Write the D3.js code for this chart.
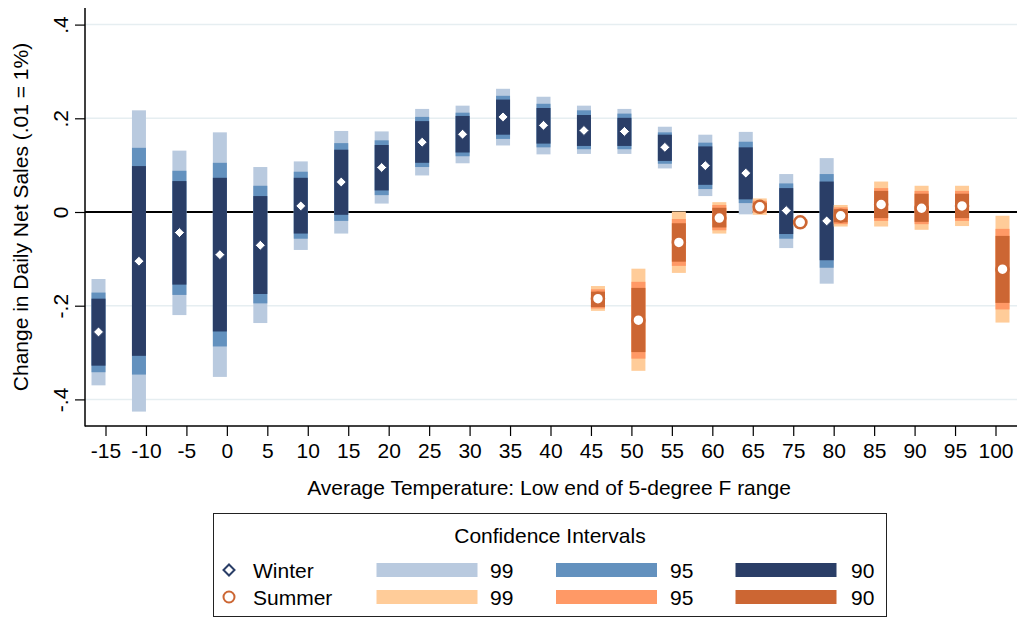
<!DOCTYPE html>
<html>
<head>
<meta charset="utf-8">
<script src="https://cdn.jsdelivr.net/npm/d3@7"></script>
<style>
  html, body { margin: 0; padding: 0; background: #fff; }
  svg { display: block; font-family: "Liberation Sans", Arial, sans-serif; }
</style>
</head>
<body>
<svg id="chart" width="1020" height="622"></svg>
<script>
// ---- Data ----
const categories = ["-15","-10","-5","0","5","10","15","20","25","30","35","40","45","50","55","60","65","75","80","85","90","95","100"];

const winterEst  = [-0.256,-0.105,-0.044,-0.091,-0.071,0.013,0.064,0.095,0.149,0.166,0.203,0.185,0.174,0.172,0.138,0.099,0.083,0.003,-0.019,null,null,null,null];
const winter99Lo = [-0.370,-0.426,-0.220,-0.352,-0.237,-0.081,-0.046,0.018,0.078,0.104,0.142,0.123,0.124,0.124,0.093,0.034,-0.005,-0.077,-0.153,null,null,null,null];
const winter99Hi = [-0.143,0.217,0.131,0.170,0.096,0.108,0.173,0.172,0.220,0.227,0.263,0.246,0.227,0.220,0.182,0.165,0.171,0.081,0.115,null,null,null,null];
const winter95Lo = [-0.342,-0.347,-0.177,-0.287,-0.195,-0.057,-0.019,0.036,0.096,0.119,0.156,0.138,0.134,0.134,0.103,0.049,0.019,-0.057,-0.119,null,null,null,null];
const winter95Hi = [-0.172,0.137,0.088,0.105,0.056,0.086,0.147,0.153,0.203,0.212,0.248,0.231,0.217,0.210,0.170,0.148,0.150,0.061,0.081,null,null,null,null];
const winter90Lo = [-0.328,-0.307,-0.155,-0.255,-0.175,-0.046,-0.006,0.046,0.105,0.127,0.165,0.146,0.141,0.141,0.109,0.058,0.027,-0.047,-0.103,null,null,null,null];
const winter90Hi = [-0.185,0.098,0.066,0.073,0.034,0.073,0.133,0.143,0.194,0.205,0.240,0.222,0.207,0.201,0.165,0.140,0.138,0.051,0.065,null,null,null,null];

const N12 = [null,null,null,null,null,null,null,null,null,null,null,null];
const summerEst  = N12.concat([-0.185,-0.231,-0.065,-0.013,0.011,-0.022,-0.008,0.016,0.008,0.013,-0.122]);
const summer99Lo = N12.concat([-0.211,-0.339,-0.130,-0.046,-0.006,-0.029,-0.031,-0.031,-0.038,-0.030,-0.236]);
const summer99Hi = N12.concat([-0.158,-0.121,0.001,0.021,0.029,-0.015,0.015,0.065,0.056,0.056,-0.008]);
const summer95Lo = N12.concat([-0.206,-0.313,-0.115,-0.039,-0.001,-0.027,-0.026,-0.019,-0.026,-0.019,-0.208]);
const summer95Hi = N12.concat([-0.165,-0.149,-0.015,0.015,0.024,-0.017,0.010,0.051,0.045,0.045,-0.036]);
const summer90Lo = N12.concat([-0.203,-0.299,-0.106,-0.033,0.003,-0.025,-0.022,-0.013,-0.021,-0.013,-0.194]);
const summer90Hi = N12.concat([-0.170,-0.162,-0.024,0.009,0.020,-0.019,0.006,0.045,0.039,0.039,-0.051]);

const yTicks = [-0.4,-0.2,0,0.2,0.4];
const yTickLabels = ["-.4","-.2","0",".2",".4"];
const ciLevels = ["99","95","90"];

// ---- Styles ----
const winterColors = {"99":"#b9cadf","95":"#6391be","90":"#2a3e67"};
const summerColors = {"99":"#ffcc99","95":"#ff9966","90":"#cc6633"};
const winterMarker = "#2a3e67";
const summerMarker = "#cc6633";

const svg = d3.select("#chart");
const FONT = 21;

const x = d3.scalePoint().domain(categories).range([105.5, 995.5]);
const y = d3.scaleLinear().domain([-0.4, 0.4]).range([399.4, 24.6]);

const plotLeft = 85, plotRight = 1017, plotTop = 8, plotBottom = 426;
const barW = 14;

// gridlines
svg.append("g").selectAll("line").data(yTicks.filter(d => d !== 0)).join("line")
  .attr("x1", plotLeft).attr("x2", plotRight)
  .attr("y1", d => y(d)).attr("y2", d => y(d))
  .attr("stroke", "#e6eef1").attr("stroke-width", 1.5);

// zero line
svg.append("line")
  .attr("x1", plotLeft).attr("x2", plotRight)
  .attr("y1", y(0)).attr("y2", y(0))
  .attr("stroke", "#000").attr("stroke-width", 2.2);

// bars
function drawSeries(lo, hi, colors, offset, cls) {
  const g = svg.append("g").attr("class", cls);
  ciLevels.forEach(level => {
    const data = categories.map((c, i) => ({c, lo: lo[level][i], hi: hi[level][i]}))
      .filter(d => d.lo !== null);
    g.append("g").selectAll("rect").data(data).join("rect")
      .attr("x", d => x(d.c) + offset)
      .attr("width", barW)
      .attr("y", d => y(d.hi))
      .attr("height", d => Math.max(0.5, y(d.lo) - y(d.hi)))
      .attr("fill", colors[level]);
  });
  return g;
}

drawSeries(
  {"99": winter99Lo, "95": winter95Lo, "90": winter90Lo},
  {"99": winter99Hi, "95": winter95Hi, "90": winter90Hi},
  winterColors, -barW, "winter");
drawSeries(
  {"99": summer99Lo, "95": summer95Lo, "90": summer90Lo},
  {"99": summer99Hi, "95": summer95Hi, "90": summer90Hi},
  summerColors, 0, "summer");

function diamondPath(r) {
  return `M0,${-r}L${r},0L0,${r}L${-r},0Z`;
}

// winter markers
svg.append("g").selectAll("path")
  .data(categories.map((c, i) => ({c, v: winterEst[i]})).filter(d => d.v !== null))
  .join("path")
  .attr("d", diamondPath(5))
  .attr("transform", d => `translate(${x(d.c) - barW / 2},${y(d.v)})`)
  .attr("fill", "#fff").attr("stroke", winterMarker).attr("stroke-width", 1);

// summer markers
svg.append("g").selectAll("circle")
  .data(categories.map((c, i) => ({c, v: summerEst[i]})).filter(d => d.v !== null))
  .join("circle")
  .attr("cx", d => x(d.c) + barW / 2)
  .attr("cy", d => y(d.v))
  .attr("r", 6)
  .attr("fill", "#fff").attr("stroke", summerMarker).attr("stroke-width", 2.5);

// axes
const yAxis = d3.axisLeft(y).tickValues(yTicks).tickFormat((d, i) => yTickLabels[i]).tickSize(10).tickPadding(6);
const yg = svg.append("g").attr("transform", `translate(${plotLeft},0)`).call(yAxis);
yg.select(".domain").remove();
yg.selectAll(".tick line").attr("stroke", "#000").attr("stroke-width", 1.2);
yg.selectAll(".tick text")
  .attr("font-size", FONT).attr("fill", "#000")
  .attr("text-anchor", "middle")
  .attr("x", null).attr("dy", null)
  .attr("transform", "translate(-17,0) rotate(-90)")
  .attr("y", 0);
svg.append("line").attr("x1", plotLeft).attr("x2", plotLeft).attr("y1", plotTop).attr("y2", plotBottom + 0.5)
  .attr("stroke", "#000").attr("stroke-width", 1.5);

const xAxis = d3.axisBottom(x).tickSize(10).tickPadding(7);
const xg = svg.append("g").attr("transform", `translate(0,${plotBottom})`).call(xAxis);
xg.select(".domain").remove();
xg.selectAll(".tick line").attr("stroke", "#000").attr("stroke-width", 1.2);
xg.selectAll(".tick text").attr("font-size", FONT).attr("fill", "#000");
svg.append("line").attr("x1", plotLeft).attr("x2", plotRight).attr("y1", plotBottom).attr("y2", plotBottom)
  .attr("stroke", "#000").attr("stroke-width", 1.5);

// axis titles
svg.append("text").attr("x", 549).attr("y", 495).attr("text-anchor", "middle")
  .attr("font-size", FONT).text("Average Temperature: Low end of 5-degree F range");
svg.append("text").attr("transform", `translate(28,${217}) rotate(-90)`).attr("text-anchor", "middle")
  .attr("font-size", FONT).text("Change in Daily Net Sales (.01 = 1%)");

// legend
const lg = svg.append("g");
lg.append("rect").attr("x", 213.5).attr("y", 513.5).attr("width", 673).attr("height", 103)
  .attr("fill", "#fff").attr("stroke", "#222").attr("stroke-width", 1);
lg.append("text").attr("x", 550).attr("y", 543).attr("text-anchor", "middle").attr("font-size", FONT)
  .text("Confidence Intervals");
const rows = [
  {name: "Winter", colors: winterColors, cy: 570, marker: "diamond"},
  {name: "Summer", colors: summerColors, cy: 597, marker: "circle"}
];
const legBarX = {"99": 376.5, "95": 556, "90": 735.5};
const legLabX = {"99": 490, "95": 670, "90": 851};
rows.forEach(r => {
  if (r.marker === "diamond") {
    lg.append("path").attr("d", diamondPath(5.5)).attr("transform", `translate(229,${r.cy})`)
      .attr("fill", "none").attr("stroke", winterMarker).attr("stroke-width", 2);
  } else {
    lg.append("circle").attr("cx", 229).attr("cy", r.cy).attr("r", 5.5)
      .attr("fill", "none").attr("stroke", summerMarker).attr("stroke-width", 2);
  }
  lg.append("text").attr("x", 253).attr("y", r.cy + 7.5).attr("font-size", FONT).text(r.name);
  ciLevels.forEach(level => {
    lg.append("rect").attr("x", legBarX[level]).attr("y", r.cy - 7).attr("width", 101).attr("height", 14)
      .attr("fill", r.colors[level]);
    lg.append("text").attr("x", legLabX[level]).attr("y", r.cy + 7.5).attr("font-size", FONT).text(level);
  });
});
</script>
</body>
</html>
